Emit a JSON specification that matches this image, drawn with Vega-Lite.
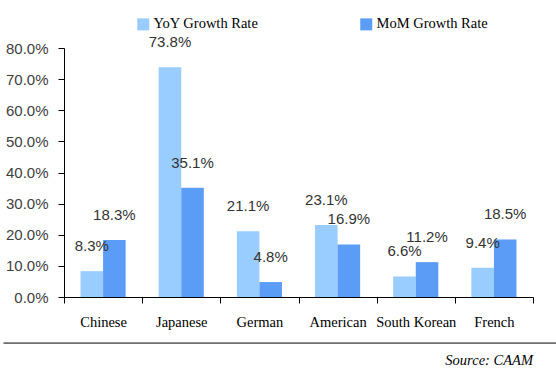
{
  "$schema": "https://vega.github.io/schema/vega-lite/v6.json",
  "width": 469,
  "height": 249,
  "autosize": {"type": "none"},
  "padding": {"left": 64, "top": 48, "right": 23, "bottom": 83},
  "config": {"view": {"stroke": null}, "font": "Liberation Sans"},
  "data": {
    "values": [
      {"brand": "Chinese", "series": "YoY Growth Rate", "rate": 0.083},
      {"brand": "Chinese", "series": "MoM Growth Rate", "rate": 0.183},
      {"brand": "Japanese", "series": "YoY Growth Rate", "rate": 0.738},
      {"brand": "Japanese", "series": "MoM Growth Rate", "rate": 0.351},
      {"brand": "German", "series": "YoY Growth Rate", "rate": 0.211},
      {"brand": "German", "series": "MoM Growth Rate", "rate": 0.048},
      {"brand": "American", "series": "YoY Growth Rate", "rate": 0.231},
      {"brand": "American", "series": "MoM Growth Rate", "rate": 0.169},
      {"brand": "South Korean", "series": "YoY Growth Rate", "rate": 0.066},
      {"brand": "South Korean", "series": "MoM Growth Rate", "rate": 0.112},
      {"brand": "French", "series": "YoY Growth Rate", "rate": 0.094},
      {"brand": "French", "series": "MoM Growth Rate", "rate": 0.185}
    ]
  },
  "title": {
    "text": "Source: CAAM",
    "orient": "bottom",
    "anchor": "end",
    "frame": "group",
    "font": "Liberation Serif",
    "fontStyle": "italic",
    "fontWeight": "normal",
    "fontSize": 14.5,
    "color": "#000000",
    "offset": 10
  },
  "layer": [
    {
      "layer": [
        {
          "mark": {"type": "bar"},
          "encoding": {
            "x": {
              "field": "brand",
              "type": "nominal",
              "sort": ["Chinese", "Japanese", "German", "American", "South Korean", "French"],
              "scale": {"paddingInner": 0, "paddingOuter": 0},
              "axis": {
                "title": null,
                "labelAngle": 0,
                "tickBand": "extent",
                "domainColor": "#000000",
                "tickColor": "#000000",
                "tickSize": 6,
                "labelFont": "Liberation Serif",
                "labelFontSize": 14.5,
                "labelColor": "#000000",
                "labelPadding": 12
              }
            },
            "xOffset": {
              "field": "series",
              "sort": ["YoY Growth Rate", "MoM Growth Rate"],
              "scale": {"paddingInner": 0, "paddingOuter": 0.733}
            },
            "y": {
              "field": "rate",
              "type": "quantitative",
              "scale": {"domain": [0, 0.8]},
              "axis": {
                "title": null,
                "format": ".1%",
                "values": [0, 0.1, 0.2, 0.3, 0.4, 0.5, 0.6, 0.7, 0.8],
                "labelOverlap": false,
                "grid": false,
                "domainColor": "#000000",
                "tickColor": "#000000",
                "tickSize": 6,
                "labelFont": "Liberation Sans",
                "labelFontSize": 15,
                "labelColor": "#404040",
                "labelPadding": 10
              }
            },
            "color": {
              "field": "series",
              "type": "nominal",
              "scale": {
                "domain": ["YoY Growth Rate", "MoM Growth Rate"],
                "range": ["#99CCFF", "#5B9CF6"]
              },
              "legend": {
                "title": null,
                "orient": "none",
                "legendX": 72,
                "legendY": -31,
                "direction": "horizontal",
                "symbolType": "square",
                "symbolSize": 144,
                "symbolStrokeWidth": 0,
                "symbolOpacity": 1,
                "labelFont": "Liberation Serif",
                "labelFontSize": 14.5,
                "labelColor": "#000000",
                "labelOffset": 3,
                "columnPadding": 100
              }
            }
          }
        },
        {
          "mark": {
            "type": "text",
            "baseline": "middle",
            "dy": -25,
            "font": "Liberation Sans",
            "fontSize": 15,
            "color": "#333333"
          },
          "encoding": {
            "x": {
              "field": "brand",
              "type": "nominal",
              "sort": ["Chinese", "Japanese", "German", "American", "South Korean", "French"]
            },
            "xOffset": {
              "field": "series",
              "sort": ["YoY Growth Rate", "MoM Growth Rate"]
            },
            "y": {
              "field": "rate",
              "type": "quantitative",
              "axis": {
                "title": null,
                "format": ".1%",
                "values": [0, 0.1, 0.2, 0.3, 0.4, 0.5, 0.6, 0.7, 0.8],
                "labelOverlap": false,
                "grid": false,
                "domainColor": "#000000",
                "tickColor": "#000000",
                "tickSize": 6,
                "labelFont": "Liberation Sans",
                "labelFontSize": 15,
                "labelColor": "#404040",
                "labelPadding": 10
              }
            },
            "text": {"field": "rate", "type": "quantitative", "format": ".1%"}
          }
        }
      ]
    },
    {
      "data": {"values": [{"item": "separator"}]},
      "mark": {"type": "rule", "color": "#000000", "strokeWidth": 1},
      "encoding": {
        "x": {"datum": -0.129, "type": "quantitative", "scale": {"domain": [0, 1]}, "axis": null},
        "x2": {"datum": 1.05},
        "y": {"datum": -0.148, "type": "quantitative", "axis": {
                "title": null,
                "format": ".1%",
                "values": [0, 0.1, 0.2, 0.3, 0.4, 0.5, 0.6, 0.7, 0.8],
                "labelOverlap": false,
                "grid": false,
                "domainColor": "#000000",
                "tickColor": "#000000",
                "tickSize": 6,
                "labelFont": "Liberation Sans",
                "labelFontSize": 15,
                "labelColor": "#404040",
                "labelPadding": 10
              }}
      }
    }
  ],
  "resolve": {"scale": {"x": "independent"}, "axis": {"x": "independent"}}
}
